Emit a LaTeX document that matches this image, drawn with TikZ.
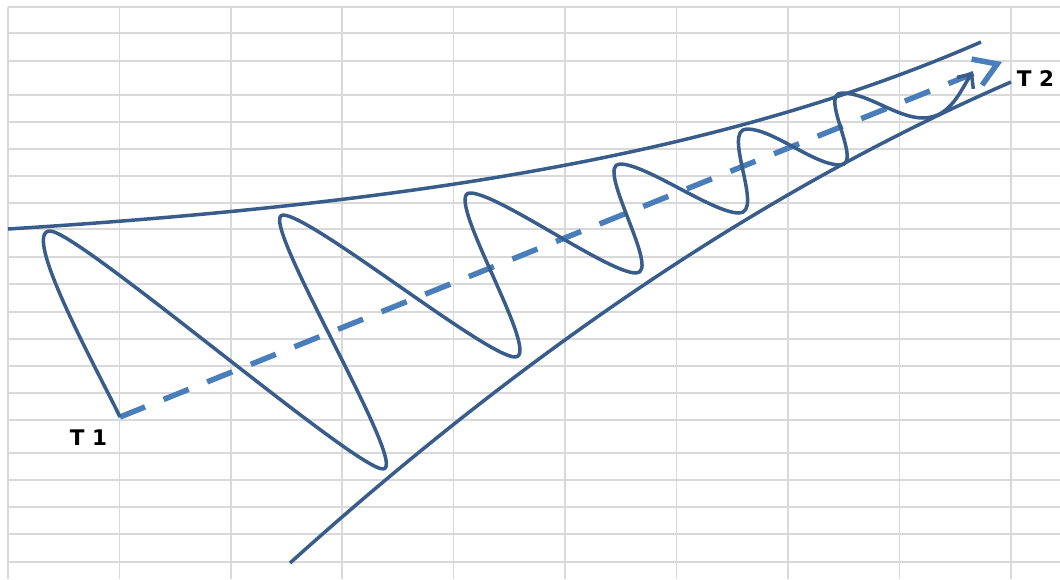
\documentclass[tikz,border=0pt]{standalone}
\usepackage{fontspec}
\setmainfont{DejaVu Sans}
\usetikzlibrary{arrows.meta}
\definecolor{gridc}{HTML}{D9D9D9}
\definecolor{lineblue}{HTML}{385D8A}
\definecolor{dashblue}{HTML}{4A7EBB}
\begin{document}
\begin{tikzpicture}[x=1pt,y=-1pt,
  gridline/.style={draw=gridc,line width=1.5pt},
  bound/.style={draw=lineblue,line width=3.5pt},
  wave/.style={draw=lineblue,line width=3.5pt,line join=round,-{Straight Barb[length=11pt,width=20pt]}},
  trend/.style={draw=dashblue,line width=5.5pt,dash pattern=on 27pt off 20pt,-{Straight Barb[length=22pt,width=28pt]}},
  lbl/.style={font=\fontsize{21.5}{26}\selectfont\bfseries,inner sep=0pt}]
\useasboundingbox (0,0) rectangle (1060,579);
\fill[white] (0,0) rectangle (1060,579);
% grid
\foreach \x in {8,119.5,231,342,453.5,565,676.5,788,899.5,1011}
  \draw[gridline] (\x,7) -- (\x,579);
\foreach \y in {7,33,61,95,122,149,176,203,229,257,284,312,339,366,393,420,453,480,507,534,562}
  \draw[gridline] (8,\y) -- (1060,\y);
% boundaries
\draw[bound] plot[domain=8:981,samples=80,smooth] (\x,{229-31.2*(exp(0.002*(\x-8))-1)});
\coordinate (lowA) at (290,563);
\coordinate (lowB) at (1011,82);
\draw[bound] (lowA) .. controls (530.3,346.7) and (770.7,186.3) .. (lowB);
% key points
\coordinate (p0) at (120,417);
\coordinate (t1) at (50,231);
\coordinate (b2) at (383,469);
\coordinate (t2) at (283,215);
\coordinate (b3) at (515,357);
\coordinate (t3) at (470,193);
\coordinate (b4) at (636,273);
\coordinate (t4) at (620,164);
\coordinate (b5) at (739,213);
\coordinate (t5) at (747,129);
\coordinate (b6) at (840,165);
\coordinate (t6) at (842,93);
\coordinate (b7) at (923,118);
\coordinate (w) at (973,72);
\coordinate (tip) at (1002,62);
% trend line
\draw[trend] (p0) -- (tip);
% wave
\draw[wave] (p0) .. controls +(-20,-42) and +(-30,0) .. (t1)
  .. controls +(28,0) and +(-28,0) .. (b2)
  .. controls +(28,0) and +(-28,0) .. (t2)
  .. controls +(28,0) and +(-28,0) .. (b3)
  .. controls +(28,0) and +(-28,0) .. (t3)
  .. controls +(28,0) and +(-28,0) .. (b4)
  .. controls +(26,0) and +(-26,0) .. (t4)
  .. controls +(26,0) and +(-26,0) .. (b5)
  .. controls +(26,0) and +(-26,0) .. (t5)
  .. controls +(26,0) and +(-26,0) .. (b6)
  .. controls +(24,0) and +(-24,0) .. (t6)
  .. controls +(26,0) and +(-26,0) .. (b7)
  .. controls +(28,0) and +(-12,17) .. (w);
% labels
\node[lbl] (T1) at (88.5,437.5) {T 1};
\node[lbl] (T2) at (1035.5,79) {T 2};
\end{tikzpicture}
\end{document}
